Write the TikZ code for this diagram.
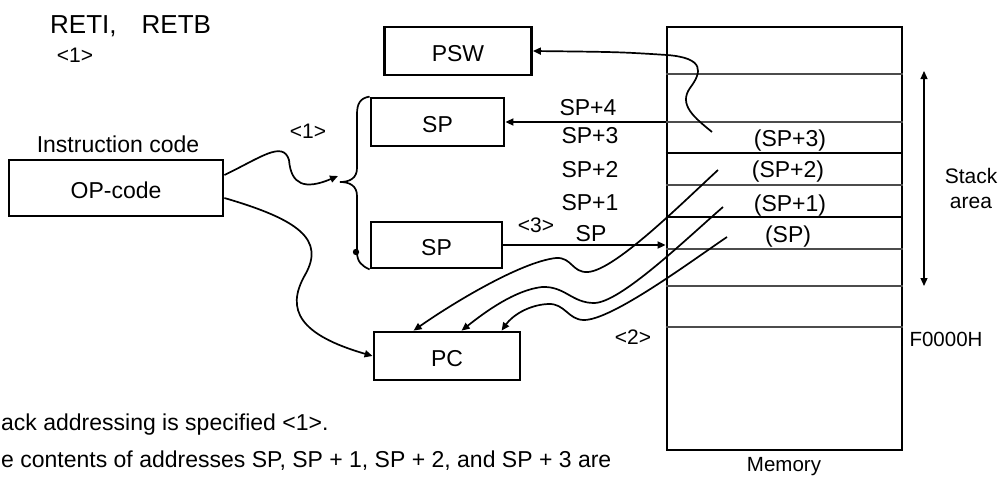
\documentclass[tikz,border=0pt]{standalone}
\usepackage{fontspec}
\setmainfont{Liberation Sans}
\usetikzlibrary{arrows.meta,calc}
\begin{document}
\begin{tikzpicture}[x=1pt,y=-1pt,
  box/.style={draw,line width=2.8pt,inner sep=0pt,font=\fontsize{23}{27}\selectfont,text height=20pt,text depth=0pt},
  lbl/.style={inner sep=0pt,font=\fontsize{23}{27}\selectfont},
  tag/.style={inner sep=0pt,font=\fontsize{21}{24}\selectfont},
  smalltxt/.style={inner sep=0pt,font=\fontsize{20.5}{25}\selectfont},
  conn/.style={line width=1.7pt},
  arr/.style={-{Triangle[length=8pt,width=7pt]}},
  memline/.style={line width=2pt,black!70},
  memthick/.style={line width=2.6pt,black},
]
\useasboundingbox (0,0) rectangle (1003,479);

% title
\node[anchor=base west,inner sep=0pt,font=\fontsize{26}{30}\selectfont] (title) at (50,33) {RETI,\hspace{25pt}RETB};
\node[tag] (t1) at (75,55) {<1>};

% boxes
\node[lbl] (iclbl) at (118,144) {Instruction code};
\node[box,minimum width=214pt,minimum height=56pt] (opcode) at (116,188) {OP-code};
\node[box,minimum width=147pt,minimum height=48pt] (psw) at (458,51) {PSW};
\node[box,minimum width=133pt,minimum height=48pt] (sptop) at (437.5,122) {SP};
\node[box,minimum width=131pt,minimum height=46pt] (spbot) at (436.5,245) {SP};
\node[box,minimum width=146pt,minimum height=48pt] (pc) at (447,356) {PC};

% memory
\node[draw,line width=2.8pt,inner sep=0pt,minimum width=235pt,minimum height=423pt] (mem) at (784.5,238.5) {};
\foreach \yy in {74,122,185,249,286,327}
  \draw[memline] (mem.west |- 0,\yy) -- (mem.east |- 0,\yy);
\foreach \yy in {153,217}
  \draw[memthick] (mem.west |- 0,\yy) -- (mem.east |- 0,\yy);

\node[lbl] (m3) at (790,141) {(SP+3)};
\node[lbl] (m2) at (788,172) {(SP+2)};
\node[lbl] (m1) at (790,206) {(SP+1)};
\node[lbl] (m0) at (788,237) {(SP)};
\node[smalltxt] (memlbl) at (784,467) {Memory};
\node[smalltxt] (f0) at (946,339) {F0000H};
\node[inner sep=0pt,font=\fontsize{21}{25}\selectfont,align=center] (stack) at (971,188) {Stack\\area};

% stack area arrow
\coordinate (stt) at (924,71);
\coordinate (stb) at (924,286);
\draw[line width=1.2pt,{Triangle[length=8pt,width=7pt]}-{Triangle[length=8pt,width=7pt]}] (stt) -- (stb);

% SP offset labels
\node[lbl] (sp4) at (588,108) {SP+4};
\node[lbl] (sp3) at (590,136) {SP+3};
\node[lbl] (sp2) at (590,170) {SP+2};
\node[lbl] (sp1) at (590,203) {SP+1};
\node[lbl] (sp0) at (591,234) {SP};

% step tags
\node[tag] (tagA) at (308,131) {<1>};
\node[tag] (tagC) at (536,225) {<3>};
\node[tag] (tagB) at (633,337) {<2>};

% brace
\draw[conn] (sptop.north west) .. controls (360,98) and (357,104) .. (357,114) -- (357,168)
  .. controls (357,178) and (350,182) .. (340,182)
  .. controls (350,182) and (357,186) .. (357,196) -- (357,252)
  .. controls (357,262) and (362,266) .. (spbot.south west);
\fill (356,252) circle (3.2pt);
\coordinate (bt) at (338,176);

% opcode -> brace
\draw[conn,arr] ([yshift=13pt]opcode.east) .. controls (260,158) and (283,140) .. (289,160)
  .. controls (291,185) and (305,190) .. (bt);
% opcode -> PC
\draw[conn,arr] ([yshift=-10pt]opcode.east) .. controls (300,220) and (325,240) .. (305,275)
  .. controls (285,310) and (300,335) .. (pc.west);

% memory -> SP (top)
\draw[conn,arr] (mem.west |- sptop.east) -- (sptop.east);
% SP (bottom) -> memory
\draw[conn,arr] (spbot.east) -- (mem.west |- spbot.east);

% memory -> PSW
\coordinate (mpsw) at (712,132);
\draw[conn,arr] (mpsw) .. controls (695,118) and (678,105) .. (690,88)
  .. controls (702,72) and (705,58) .. (667,55)
  .. controls (620,52) .. (psw.east);

% memory -> PC
\coordinate (mA) at (718,170);
\coordinate (mB) at (723,207);
\coordinate (mC) at (727,237);
\draw[conn,arr] (mA) .. controls (680,205) and (615,270) .. (588,272)
  .. controls (572,273) and (572,257) .. (556,258)
  .. controls (520,262) and (450,305) .. ([xshift=41pt]pc.north west);
\draw[conn,arr] (mB) .. controls (685,240) and (620,303) .. (594,303)
  .. controls (572,303) and (565,286) .. (542,287)
  .. controls (515,290) and (485,312) .. ([xshift=89pt]pc.north west);
\draw[conn,arr] (mC) .. controls (690,262) and (612,320) .. (584,320)
  .. controls (568,320) and (565,303) .. (548,304)
  .. controls (528,305) and (512,316) .. ([xshift=129pt]pc.north west);

% bottom text
\node[anchor=base west,inner sep=0pt,font=\fontsize{23}{27}\selectfont] (txt1) at (1,430) {ack addressing is specified <1>.};
\node[anchor=base west,inner sep=0pt,font=\fontsize{23}{27}\selectfont] (txt2) at (1,467) {e contents of addresses SP, SP + 1, SP + 2, and SP + 3 are};
\end{tikzpicture}
\end{document}
